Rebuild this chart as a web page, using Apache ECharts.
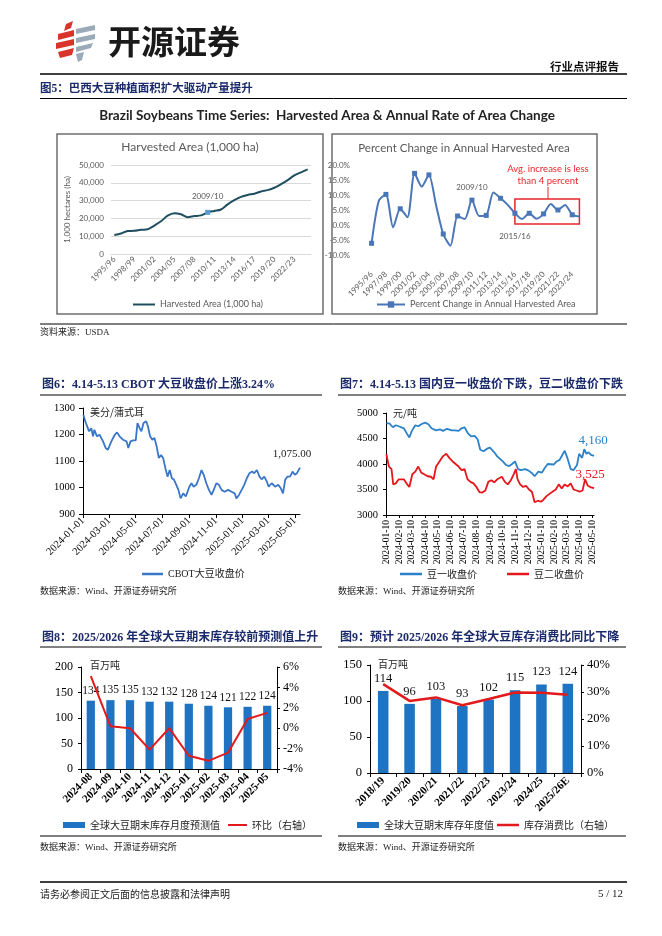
<!DOCTYPE html>
<html><head><meta charset="utf-8">
<script src="https://cdn.jsdelivr.net/npm/echarts@6/dist/echarts.min.js"></script>
<style>html,body{margin:0;padding:0;background:#fff}#c{width:662px;height:936px}</style>
</head><body><div id="c"></div>
<script>
// ---------------- DATA ----------------
const brazilSeasons = ['1995/96','1996/97','1997/98','1998/99','1999/00','2000/01','2001/02','2002/03','2003/04','2004/05','2005/06','2006/07','2007/08','2008/09','2009/10','2010/11','2011/12','2012/13','2013/14','2014/15','2015/16','2016/17','2017/18','2018/19','2019/20','2020/21','2021/22','2022/23','2023/24','2024/25'];
const harvestedArea = [10700,11500,12900,13000,13600,13900,16000,18400,21500,22900,22300,20700,21300,21700,23400,24200,25000,27900,30200,32100,33200,33900,35100,35900,37200,39200,41500,44200,45900,47500];
const areaPctChange = [-6.1,8.0,10.2,-0.8,5.4,2.6,17.2,12.8,16.7,6.6,-3.0,-6.9,3.0,2.0,8.3,3.0,3.2,10.8,8.9,6.7,3.9,2.0,3.9,2.1,3.7,7.0,5.0,6.7,3.4,2.8];

const cbotDates = ['2024-01-02','2024-01-05','2024-01-09','2024-01-15','2024-01-20','2024-01-24','2024-01-27','2024-02-02','2024-02-08','2024-02-16','2024-02-22','2024-02-27','2024-03-06','2024-03-14','2024-03-19','2024-03-25','2024-04-02','2024-04-10','2024-04-14','2024-04-19','2024-04-25','2024-05-01','2024-05-05','2024-05-10','2024-05-14','2024-05-19','2024-05-25','2024-05-29','2024-06-03','2024-06-08','2024-06-13','2024-06-18','2024-06-23','2024-06-28','2024-07-03','2024-07-08','2024-07-13','2024-07-18','2024-07-23','2024-07-28','2024-08-02','2024-08-07','2024-08-12','2024-08-18','2024-08-24','2024-09-01','2024-09-06','2024-09-11','2024-09-17','2024-09-23','2024-09-29','2024-10-04','2024-10-10','2024-10-16','2024-10-22','2024-10-27','2024-11-02','2024-11-08','2024-11-14','2024-11-21','2024-11-29','2024-12-07','2024-12-14','2024-12-18','2024-12-24','2025-01-01','2025-01-05','2025-01-11','2025-01-17','2025-01-23','2025-01-28','2025-02-03','2025-02-09','2025-02-14','2025-02-20','2025-02-26','2025-03-02','2025-03-09','2025-03-17','2025-03-24','2025-03-30','2025-04-04','2025-04-09','2025-04-14','2025-04-20','2025-04-26','2025-05-01','2025-05-06','2025-05-13'];
const cbotClose = [1275,1256,1237,1212,1224,1193,1218,1193,1199,1174,1149,1142,1174,1199,1208,1193,1180,1174,1149,1174,1178,1178,1243,1224,1212,1243,1250,1231,1193,1180,1187,1155,1111,1123,1111,1073,1041,1066,1035,1029,1010,991,959,978,966,1003,1016,1003,1010,1035,1066,1048,1016,991,972,991,1016,1010,991,984,991,984,978,959,972,997,1010,1035,1054,1060,1054,1066,1041,1031,1041,1022,1003,1016,1003,1010,997,978,1029,1041,1041,1060,1048,1054,1075];
const cbotTickDates = ['2024-01-01','2024-03-01','2024-05-01','2024-07-01','2024-09-01','2024-11-01','2025-01-01','2025-03-01','2025-05-01'];

const dceNo1Dates = ['2024-01-10','2024-01-18','2024-01-25','2024-02-01','2024-02-08','2024-02-20','2024-02-27','2024-03-04','2024-03-10','2024-03-18','2024-03-25','2024-04-01','2024-04-10','2024-04-18','2024-04-25','2024-05-06','2024-05-15','2024-05-22','2024-06-01','2024-06-12','2024-06-20','2024-06-28','2024-07-05','2024-07-12','2024-07-20','2024-07-28','2024-08-05','2024-08-12','2024-08-18','2024-08-26','2024-09-03','2024-09-10','2024-09-20','2024-09-27','2024-10-10','2024-10-18','2024-10-25','2024-11-01','2024-11-08','2024-11-15','2024-11-22','2024-12-02','2024-12-10','2024-12-18','2024-12-24','2025-01-02','2025-01-10','2025-01-17','2025-01-24','2025-02-07','2025-02-14','2025-02-21','2025-03-01','2025-03-05','2025-03-12','2025-03-19','2025-03-26','2025-04-03','2025-04-08','2025-04-15','2025-04-20','2025-04-25','2025-04-30','2025-05-06','2025-05-13'];
const dceNo1Close = [4800,4790,4720,4760,4740,4700,4600,4520,4650,4760,4740,4780,4810,4780,4700,4660,4680,4650,4690,4660,4660,4650,4700,4720,4600,4540,4550,4480,4280,4250,4300,4320,4230,4150,4050,3980,3960,4000,4050,3900,3880,3900,3870,3820,3760,3850,3830,3920,4000,3990,4050,4080,4200,4260,4100,3900,3880,3980,4200,4120,4290,4200,4230,4180,4160];
const dceNo2Dates = ['2024-01-10','2024-01-12','2024-01-16','2024-01-22','2024-01-26','2024-02-01','2024-02-08','2024-02-20','2024-02-28','2024-03-04','2024-03-11','2024-03-18','2024-03-25','2024-04-01','2024-04-08','2024-04-16','2024-04-24','2024-04-30','2024-05-06','2024-05-14','2024-05-22','2024-05-30','2024-06-06','2024-06-14','2024-06-21','2024-06-28','2024-07-05','2024-07-12','2024-07-19','2024-07-26','2024-08-02','2024-08-09','2024-08-16','2024-08-23','2024-08-30','2024-09-06','2024-09-13','2024-09-20','2024-09-27','2024-10-08','2024-10-15','2024-10-22','2024-10-29','2024-11-05','2024-11-10','2024-11-14','2024-11-20','2024-11-27','2024-12-04','2024-12-11','2024-12-18','2024-12-24','2025-01-01','2025-01-08','2025-01-14','2025-01-21','2025-02-05','2025-02-12','2025-02-19','2025-02-26','2025-03-05','2025-03-12','2025-03-19','2025-03-26','2025-04-02','2025-04-09','2025-04-16','2025-04-22','2025-04-28','2025-05-06','2025-05-13'];
const dceNo2Close = [4200,4100,3950,3900,3600,3620,3700,3700,3600,3550,3800,3850,3950,3830,3800,3760,3750,3700,3950,4050,4150,4200,4120,4050,4000,3950,3880,3900,3700,3650,3620,3550,3450,3440,3480,3650,3680,3640,3700,3750,3650,3600,3680,3800,3900,3700,3600,3550,3570,3500,3450,3250,3280,3260,3300,3370,3460,3500,3600,3520,3600,3560,3620,3500,3480,3460,3480,3700,3580,3540,3525];
const dceTickDates = ['2024-01-10','2024-02-10','2024-03-10','2024-04-10','2024-05-10','2024-06-10','2024-07-10','2024-08-10','2024-09-10','2024-10-10','2024-11-10','2024-12-10','2025-01-10','2025-02-10','2025-03-10','2025-04-10','2025-05-10'];

const forecastMonths = ['2024-08','2024-09','2024-10','2024-11','2024-12','2025-01','2025-02','2025-03','2025-04','2025-05'];
const endingStocksForecast = [134,135,135,132,132,128,124,121,122,124];
const forecastMoM = [5.1,0.2,0.0,-2.1,0.0,-2.7,-3.2,-2.4,0.9,1.5];

const marketingYears = ['2018/19','2019/20','2020/21','2021/22','2022/23','2023/24','2024/25','2025/26E'];
const endingStocksAnnual = [114,96,103,93,102,115,123,124];
const stocksToUse = [32.9,26.7,28.0,25.1,27.4,29.8,29.7,29.0];

// ---------------- STYLE ----------------
const SERIF = "'Liberation Serif','Times New Roman','Noto Sans CJK SC',serif";
const CJK = "'Noto Sans CJK SC',sans-serif";
const CAL = "Lato,'Open Sans',sans-serif";
const NAVY = '#1b2a6b';
const BLUE_BAR = '#1e73c3';
const RED = '#e31a1c';

function ts(s){const p=s.split('-').map(Number);return Date.UTC(p[0],p[1]-1,p[2]);}
function fmtDate(v){const d=new Date(v);return d.getUTCFullYear()+'-'+String(d.getUTCMonth()+1).padStart(2,'0')+'-'+String(d.getUTCDate()).padStart(2,'0');}
function thous(v){return String(v).replace(/\B(?=(\d{3})+(?!\d))/g,',');}

const G = [];
function txt(x,y,text,font,fill,align){G.push({type:'text',x:x,y:y,z:10,style:{text:text,font:font,fill:fill||'#000',textAlign:align||'left',textVerticalAlign:'middle',align:align||'left',verticalAlign:'middle'}});}
function line(x1,y1,x2,y2,w,c){G.push({type:'line',z:10,shape:{x1:x1,y1:y1,x2:x2,y2:y2},style:{stroke:c||'#000',lineWidth:w||1}});}
function box(x,y,w,h,c,lw){G.push({type:'rect',z:1,shape:{x:x,y:y,width:w,height:h},style:{fill:'none',stroke:c,lineWidth:lw}});}
function poly(pts,c){G.push({type:'polygon',z:10,shape:{points:pts},style:{fill:c}});}

// header logo
poly([[66,24],[73,21],[71,28],[64,31]],'#d9342b');
poly([[58,34],[74,30],[74,36],[58,40]],'#d9342b');
poly([[56,43],[74,39],[74,45],[56,49]],'#d9342b');
poly([[58,52],[74,48],[72,55],[60,58]],'#d9342b');
poly([[76,29],[95,25],[95,30],[76,34]],'#9aaab8');
poly([[76,38],[95,34],[95,39],[76,43]],'#9aaab8');
poly([[76,47],[93,43],[91,48],[76,52]],'#9aaab8');
poly([[76,54],[84,52],[82,60],[78,62]],'#9aaab8');
txt(108,41,'开源证券',"bold 33px 'Noto Sans CJK SC'",'#1a1a1a');
txt(619,67,'行业点评报告',"bold 11.5px 'Noto Sans CJK SC'",'#111','right');
line(40,74,627,74,1.5);

// figure 5
txt(40,89,'图5：巴西大豆种植面积扩大驱动产量提升',"bold 11.5px 'Liberation Serif','Noto Sans CJK SC'",NAVY);
line(40,98.5,627,98.5,1);
txt(327,116,'Brazil Soybeans Time Series:  Harvested Area & Annual Rate of Area Change',"bold 13.5px Lato",'#222','center');
box(57,134,266,180,'#6e6e6e',1.5);
box(332,134,265,180,'#6e6e6e',1.5);
txt(190,147,'Harvested Area (1,000 ha)',"12px Lato",'#595959','center');
txt(464,148,'Percent Change in Annual Harvested Area',"11.5px Lato",'#595959','center');
txt(548,169,'Avg. increase is less',"9.5px Lato",'#e8262b','center');
txt(548,181,'than 4 percent',"9.5px Lato",'#e8262b','center');
line(548,187,548,199,1,'#e8262b');
line(40,324,627,324,1);
txt(40,333,'资料来源：USDA',"9px 'Liberation Serif','Noto Sans CJK SC'",'#222');

// figure 6 & 7 headers
txt(42,385,'图6：4.14-5.13 CBOT 大豆收盘价上涨3.24%',"bold 12px 'Liberation Serif','Noto Sans CJK SC'",NAVY);
line(40,395,322,395,1);
txt(340,385,'图7：4.14-5.13 国内豆一收盘价下跌，豆二收盘价下跌',"bold 12px 'Liberation Serif','Noto Sans CJK SC'",NAVY);
line(338,395,626,395,1);
txt(90,412,'美分/蒲式耳',"10px 'Noto Sans CJK SC'",'#222');
txt(393,413,'元/吨',"10px 'Noto Sans CJK SC'",'#222');
txt(40,592,'数据来源：Wind、开源证券研究所',"9px 'Liberation Serif','Noto Sans CJK SC'",'#222');
txt(338,592,'数据来源：Wind、开源证券研究所',"9px 'Liberation Serif','Noto Sans CJK SC'",'#222');

// figure 8 & 9 headers
txt(42,638,'图8：2025/2026 年全球大豆期末库存较前预测值上升',"bold 12px 'Liberation Serif','Noto Sans CJK SC'",NAVY);
line(40,647,322,647,1);
txt(340,638,'图9：预计 2025/2026 年全球大豆库存消费比同比下降',"bold 12px 'Liberation Serif','Noto Sans CJK SC'",NAVY);
line(338,647,626,647,1);
txt(90,665,'百万吨',"10px 'Noto Sans CJK SC'",'#222');
txt(378,664,'百万吨',"10px 'Noto Sans CJK SC'",'#222');
line(40,836,322,836,1);
line(338,836,626,836,1);
txt(40,848,'数据来源：Wind、开源证券研究所',"9px 'Liberation Serif','Noto Sans CJK SC'",'#222');
txt(338,848,'数据来源：Wind、开源证券研究所',"9px 'Liberation Serif','Noto Sans CJK SC'",'#222');

// footer
line(40,882,627,882,1.5);
txt(40,894,'请务必参阅正文后面的信息披露和法律声明',"10px 'Noto Sans CJK SC'",'#222');
txt(623,894,'5 / 12',"11px 'Liberation Serif'",'#222','right');

// ---------------- CHART ----------------
const lastIdx = a => a.length-1;
const axBlack = {lineStyle:{color:'#000',width:1}};
const plain = v => String(v);
const serifLbl = (sz,extra) => Object.assign({fontFamily:SERIF,fontSize:sz,color:'#000'},extra||{});

const option = {
  animation:false,
  backgroundColor:'#fff',
  grid:[
    {left:111,top:165,width:200,height:89},
    {left:368,top:165,width:215,height:90},
    {left:83,top:408,width:217,height:106},
    {left:386,top:413,width:208,height:102},
    {left:81,top:667,width:196,height:102},
    {left:370,top:665,width:211,height:108}
  ],
  xAxis:[
    {type:'category',gridIndex:0,data:brazilSeasons,boundaryGap:true,axisLine:{lineStyle:{color:'#d9d9d9'}},axisTick:{show:false},
     axisLabel:{interval:2,rotate:45,fontFamily:CAL,fontSize:8,color:'#595959',margin:4}},
    {type:'category',gridIndex:1,data:brazilSeasons,boundaryGap:true,axisLine:{show:false},axisTick:{show:false},
     axisLabel:{interval:1,rotate:45,fontFamily:CAL,fontSize:8,color:'#595959',margin:18}},
    {type:'value',gridIndex:2,min:ts('2024-01-01'),max:ts('2025-05-13'),axisLine:axBlack,splitLine:{show:false},
     axisTick:{show:true,customValues:cbotTickDates.map(ts),length:4,lineStyle:{color:'#000'}},
     axisLabel:serifLbl(10.5,{customValues:cbotTickDates.map(ts),formatter:fmtDate,rotate:45,margin:5})},
    {type:'value',gridIndex:3,min:ts('2024-01-09'),max:ts('2025-05-13'),axisLine:axBlack,splitLine:{show:false},
     axisTick:{show:true,customValues:dceTickDates.map(ts),length:3,lineStyle:{color:'#000'}},
     axisLabel:serifLbl(9.5,{customValues:dceTickDates.map(ts),formatter:fmtDate,rotate:90,margin:5})},
    {type:'category',gridIndex:4,data:forecastMonths,axisLine:axBlack,axisTick:{show:true,length:4,lineStyle:{color:'#000'}},
     axisLabel:serifLbl(11,{rotate:45,fontWeight:'bold',margin:6,interval:0})},
    {type:'category',gridIndex:5,data:marketingYears,axisLine:axBlack,axisTick:{show:true,length:4,lineStyle:{color:'#000'}},
     axisLabel:serifLbl(11,{rotate:45,fontWeight:'bold',margin:6,interval:0})}
  ],
  yAxis:[
    {type:'value',gridIndex:0,min:0,max:50000,interval:10000,axisLine:{show:false},axisTick:{show:false},
     splitLine:{lineStyle:{color:'#d9d9d9'}},axisLabel:{fontFamily:CAL,fontSize:8,color:'#595959',margin:7,formatter:v=>thous(v)},
     name:'1,000 hectares (ha)',nameLocation:'middle',nameGap:40,nameRotate:90,nameTextStyle:{fontFamily:CAL,fontSize:8,color:'#595959'}},
    {type:'value',gridIndex:1,min:-10,max:20,interval:5,axisLine:{show:false},axisTick:{show:false},splitLine:{show:false},
     axisLabel:{fontFamily:CAL,fontSize:8,color:'#595959',margin:18,formatter:v=>v.toFixed(1)+'%'}},
    {type:'value',gridIndex:2,min:900,max:1300,interval:100,axisLine:Object.assign({show:true},axBlack),
     axisTick:{show:true,length:4,lineStyle:{color:'#000'}},splitLine:{show:false},axisLabel:serifLbl(10.5,{margin:8,formatter:plain})},
    {type:'value',gridIndex:3,min:3000,max:5000,interval:500,axisLine:Object.assign({show:true},axBlack),
     axisTick:{show:true,length:3,lineStyle:{color:'#000'}},splitLine:{show:false},axisLabel:serifLbl(10.5,{margin:8,formatter:plain})},
    {type:'value',gridIndex:4,min:0,max:200,interval:50,axisLine:Object.assign({show:true},axBlack),
     axisTick:{show:true,length:3,lineStyle:{color:'#000'}},splitLine:{show:false},axisLabel:serifLbl(12,{margin:8,formatter:plain})},
    {type:'value',gridIndex:4,position:'right',min:-4,max:6,interval:2,axisLine:Object.assign({show:true},axBlack),
     axisTick:{show:true,length:3,lineStyle:{color:'#000'}},splitLine:{show:false},axisLabel:serifLbl(12,{margin:6,formatter:v=>v+'%'})},
    {type:'value',gridIndex:5,min:0,max:150,interval:50,axisLine:Object.assign({show:true},axBlack),
     axisTick:{show:true,length:3,lineStyle:{color:'#000'}},splitLine:{show:false},axisLabel:serifLbl(12.5,{margin:8,formatter:plain})},
    {type:'value',gridIndex:5,position:'right',min:0,max:40,interval:10,axisLine:Object.assign({show:true},axBlack),
     axisTick:{show:true,length:3,lineStyle:{color:'#000'}},splitLine:{show:false},axisLabel:serifLbl(12.5,{margin:6,formatter:v=>v+'%'})}
  ],
  legend:[
    {data:['Harvested Area (1,000 ha)'],left:128,top:295,icon:'rect',itemWidth:22,itemHeight:2,textStyle:{fontFamily:CAL,fontSize:9,color:'#595959'}},
    {data:['Percent Change in Annual Harvested Area'],left:371,top:295,itemWidth:28,itemHeight:8,textStyle:{fontFamily:CAL,fontSize:9,color:'#595959'}},
    {data:['CBOT大豆收盘价'],left:137,top:564,icon:'rect',itemWidth:21,itemHeight:2.5,textStyle:{fontFamily:SERIF,fontSize:10,color:'#222'}},
    {data:['豆一收盘价','豆二收盘价'],left:395,top:564,icon:'rect',itemWidth:22,itemHeight:2.5,itemGap:30,textStyle:{fontFamily:CJK,fontSize:10,color:'#222'}},
    {data:['全球大豆期末库存月度预测值'],left:58,top:815,icon:'rect',itemWidth:22,itemHeight:6,textStyle:{fontFamily:CJK,fontSize:10,color:'#222'}},
    {data:['环比（右轴）'],left:223,top:815,icon:'rect',itemWidth:19,itemHeight:2,textStyle:{fontFamily:CJK,fontSize:10,color:'#222'}},
    {data:['全球大豆期末库存年度值'],left:352,top:815,icon:'rect',itemWidth:22,itemHeight:6,textStyle:{fontFamily:CJK,fontSize:10,color:'#222'}},
    {data:['库存消费比（右轴）'],left:492,top:815,icon:'rect',itemWidth:22,itemHeight:2.5,textStyle:{fontFamily:CJK,fontSize:10,color:'#222'}}
  ],
  series:[
    {name:'Harvested Area (1,000 ha)',type:'line',xAxisIndex:0,yAxisIndex:0,data:harvestedArea,symbol:'none',smooth:0.3,
     lineStyle:{color:'#1f4f5f',width:2},itemStyle:{color:'#1f4f5f'},
     markPoint:{symbol:'rect',symbolSize:5,itemStyle:{color:'#5b9bd5'},
       label:{show:true,position:'top',distance:9,formatter:'2009/10',fontFamily:CAL,fontSize:8,color:'#595959'},
       data:[{coord:['2009/10',harvestedArea[brazilSeasons.indexOf('2009/10')]]}]}},
    {name:'Percent Change in Annual Harvested Area',type:'line',xAxisIndex:1,yAxisIndex:1,data:areaPctChange,symbol:'rect',symbolSize:5,smooth:0.25,
     lineStyle:{color:'#4a76b8',width:2},itemStyle:{color:'#4a76b8'},
     markPoint:{symbol:'rect',symbolSize:0,data:[
        {coord:['2009/10',areaPctChange[brazilSeasons.indexOf('2009/10')]],label:{show:true,position:'top',distance:9,formatter:'2009/10',fontFamily:CAL,fontSize:8,color:'#595959'}},
        {coord:['2015/16',areaPctChange[brazilSeasons.indexOf('2015/16')]],label:{show:true,position:'bottom',distance:19,formatter:'2015/16',fontFamily:CAL,fontSize:8,color:'#595959'}}]},
     markArea:{silent:true,itemStyle:{color:'rgba(0,0,0,0)',borderColor:'#e8262b',borderWidth:1.5},
       data:[[{xAxis:'2015/16',yAxis:8.7},{xAxis:'2024/25',yAxis:0.3}]]}},
    {name:'CBOT大豆收盘价',type:'line',xAxisIndex:2,yAxisIndex:2,data:cbotDates.map((d,i)=>[ts(d),cbotClose[i]]),symbol:'none',
     lineStyle:{color:'#3a76c8',width:1.8},itemStyle:{color:'#3a76c8'},
     markPoint:{symbol:'circle',symbolSize:0,data:[{coord:[ts(cbotDates[lastIdx(cbotDates)]),cbotClose[lastIdx(cbotClose)]]}],
       label:{show:true,position:'top',distance:8,offset:[-8,0],formatter:()=>cbotClose[lastIdx(cbotClose)].toLocaleString('en-US',{minimumFractionDigits:2}),fontFamily:SERIF,fontSize:11,color:'#222'}}},
    {name:'豆一收盘价',type:'line',xAxisIndex:3,yAxisIndex:3,data:dceNo1Dates.map((d,i)=>[ts(d),dceNo1Close[i]]),symbol:'none',
     lineStyle:{color:'#2b82c9',width:1.8},itemStyle:{color:'#2b82c9'},
     markPoint:{symbol:'circle',symbolSize:0,data:[{coord:[ts(dceNo1Dates[lastIdx(dceNo1Dates)]),dceNo1Close[lastIdx(dceNo1Close)]]}],
       label:{show:true,position:'top',distance:9,offset:[-1,0],formatter:()=>thous(dceNo1Close[lastIdx(dceNo1Close)]),fontFamily:SERIF,fontSize:13,color:'#2b82c9'}}},
    {name:'豆二收盘价',type:'line',xAxisIndex:3,yAxisIndex:3,data:dceNo2Dates.map((d,i)=>[ts(d),dceNo2Close[i]]),symbol:'none',
     lineStyle:{color:'#e6161c',width:1.8},itemStyle:{color:'#e6161c'},
     markPoint:{symbol:'circle',symbolSize:0,data:[{coord:[ts(dceNo2Dates[lastIdx(dceNo2Dates)]),dceNo2Close[lastIdx(dceNo2Close)]]}],
       label:{show:true,position:'top',distance:7,offset:[-4,0],formatter:()=>thous(dceNo2Close[lastIdx(dceNo2Close)]),fontFamily:SERIF,fontSize:13,color:'#e6161c'}}},
    {name:'全球大豆期末库存月度预测值',type:'bar',xAxisIndex:4,yAxisIndex:4,data:endingStocksForecast,barWidth:'42%',
     itemStyle:{color:BLUE_BAR},label:{show:true,position:'top',distance:4,fontFamily:SERIF,fontSize:11.5,color:'#111'}},
    {name:'环比（右轴）',type:'line',xAxisIndex:4,yAxisIndex:5,data:forecastMoM,symbol:'none',
     lineStyle:{color:RED,width:2},itemStyle:{color:RED},z:5},
    {name:'全球大豆期末库存年度值',type:'bar',xAxisIndex:5,yAxisIndex:6,data:endingStocksAnnual,barWidth:'40%',
     itemStyle:{color:BLUE_BAR},label:{show:true,position:'top',distance:6,fontFamily:SERIF,fontSize:12.5,color:'#111'}},
    {name:'库存消费比（右轴）',type:'line',xAxisIndex:5,yAxisIndex:7,data:stocksToUse,symbol:'none',
     lineStyle:{color:RED,width:2.5},itemStyle:{color:RED},z:5}
  ],
  graphic:{elements:G}
};
const chart = echarts.init(document.getElementById('c'),null,{renderer:'canvas'});
chart.setOption(option);
</script></body></html>
